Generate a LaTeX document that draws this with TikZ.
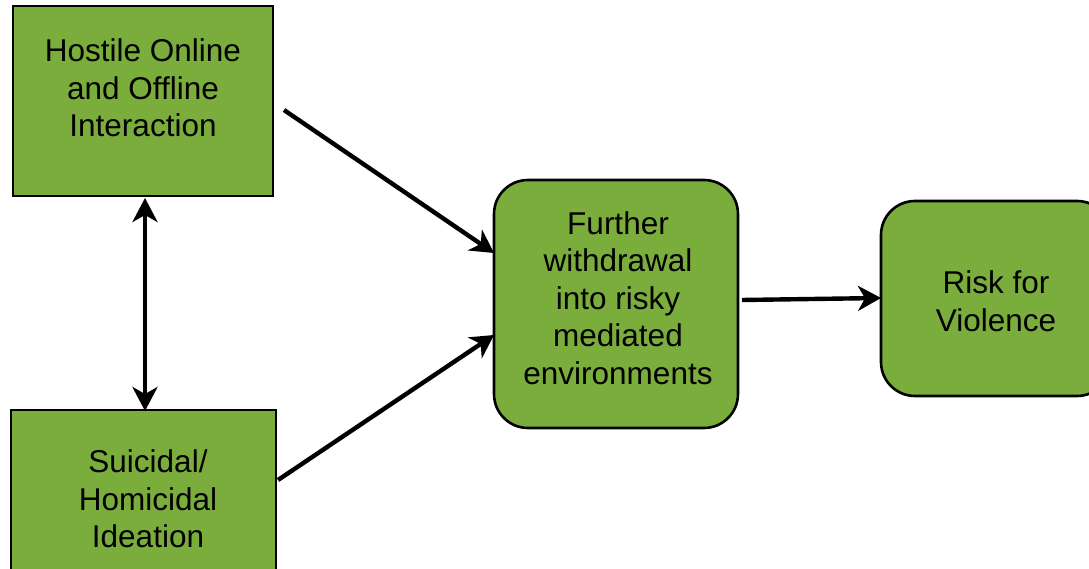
\documentclass[tikz,border=0pt]{standalone}
\usepackage{fontspec}
\setmainfont{Liberation Sans}
\usetikzlibrary{arrows.meta}
\definecolor{boxgreen}{RGB}{122,173,60}
\begin{document}
\begin{tikzpicture}[x=1pt,y=-1pt,
  box/.style={draw=black,fill=boxgreen,line width=2.6pt,inner sep=0pt},
  rbox/.style={box,rounded corners=34pt},
  txt/.style={align=center,font=\fontsize{31.5}{37.5}\selectfont,inner sep=0pt},
  tip/.style={Stealth[length=23pt,width=25pt,inset=7pt]},
  arr/.style={line width=4.4pt,-{Stealth[length=23pt,width=25pt,inset=7pt]}},
  darr/.style={line width=4.4pt,{Stealth[length=24pt,width=25pt,inset=7pt]}-{Stealth[length=24pt,width=25pt,inset=7pt]}}]
\clip (0,0) rectangle (1089,569);
\useasboundingbox (0,0) rectangle (1089,569);
\fill[white] (0,0) rectangle (1089,569);
% boxes
\node[box,minimum width=260pt,minimum height=190pt] (A) at (143,101) {};
\node[box,minimum width=265pt,minimum height=190pt] (B) at (143.5,505) {};
\node[rbox,minimum width=244pt,minimum height=248pt] (C) at (616,304) {};
\node[rbox,minimum width=230pt,minimum height=195pt] (D) at (996,298.5) {};
% texts
\node[txt] (tA) at (143,88) {Hostile Online\\and Offline\\Interaction};
\node[txt] (tB) at (148,499) {Suicidal/\\Homicidal\\Ideation};
\node[txt] (tC) at (618,298) {Further\\withdrawal\\into risky\\mediated\\environments};
\node[txt] (tD) at (996,301) {Risk for\\Violence};
% connector ends
\coordinate (a1) at (284,110);
\coordinate (c1) at (494,253);
\coordinate (b1) at (278,480);
\coordinate (c2) at (494,335);
\coordinate (c3) at (742,300);
\coordinate (d1) at (881,298);
\coordinate (a2) at (145,198);
\coordinate (b2) at (145,411);
\draw[arr] (a1) -- (c1);
\draw[arr] (b1) -- (c2);
\draw[arr] (c3) -- (d1);
\draw[darr] (a2) -- (b2);
\end{tikzpicture}
\end{document}
